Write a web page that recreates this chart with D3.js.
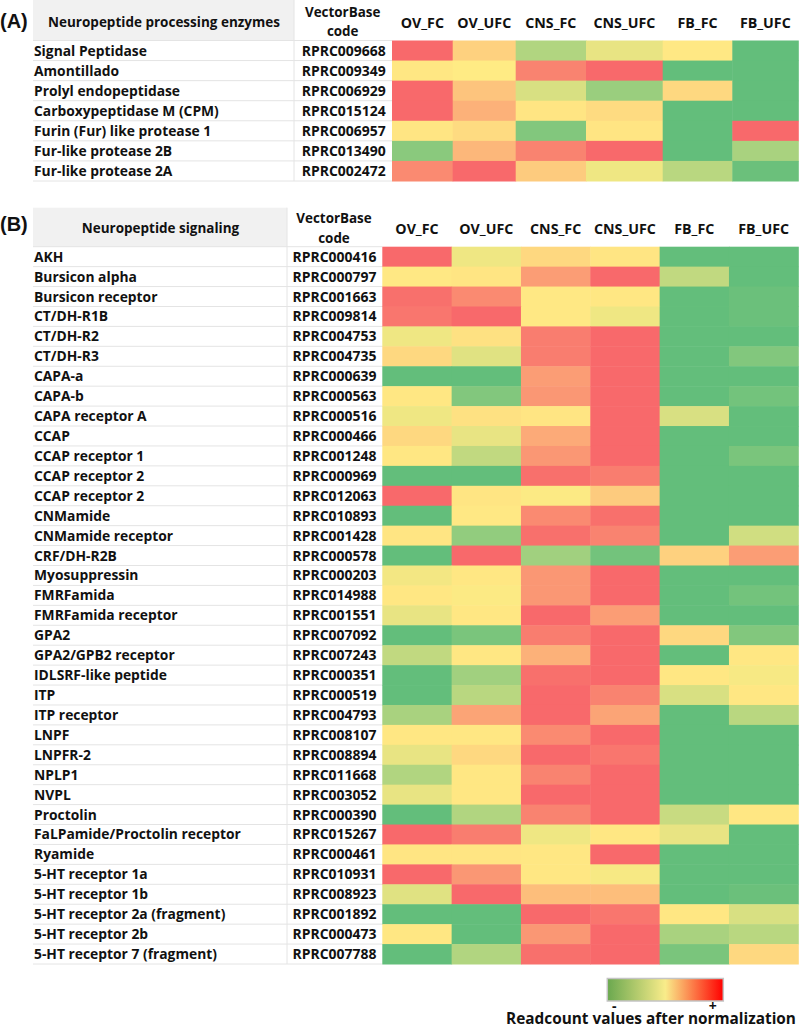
<!DOCTYPE html>
<html>
<head>
<meta charset="utf-8">
<script src="https://cdn.jsdelivr.net/npm/d3@7"></script>
<style>
  html, body { margin: 0; padding: 0; background: #fff; }
  svg { display: block; }
  text { font-family: "Open Sans", Lato, sans-serif; fill: #111; font-weight: 700; }
</style>
</head>
<body>
<svg id="chart" width="800" height="1027"></svg>
<script>
// ---------------- DATA ----------------
const columns = ["OV_FC", "OV_UFC", "CNS_FC", "CNS_UFC", "FB_FC", "FB_UFC"];

const genesA = ["Signal Peptidase", "Amontillado", "Prolyl endopeptidase", "Carboxypeptidase M (CPM)",
  "Furin (Fur) like protease 1", "Fur-like protease 2B", "Fur-like protease 2A"];
const codesA = ["RPRC009668", "RPRC009349", "RPRC006929", "RPRC015124", "RPRC006957", "RPRC013490", "RPRC002472"];
// relative normalized readcount: -1 (lowest, green) .. 0 (yellow) .. +1 (highest, red)
const valuesA = [
  [1.00, 0.20, -0.50, -0.15, 0.02, -1.00],
  [0.03, 0.00, 0.80, 1.00, -1.00, -1.00],
  [1.00, 0.30, -0.25, -0.65, 0.15, -1.00],
  [1.00, 0.45, 0.05, 0.12, -1.00, -1.00],
  [0.05, 0.12, -0.80, 0.05, -1.00, 1.00],
  [-0.75, 0.40, 0.80, 1.00, -1.00, -0.55],
  [0.75, 1.00, 0.25, -0.10, -0.45, -0.95]
];

const genesB = ["AKH", "Bursicon alpha", "Bursicon receptor", "CT/DH-R1B", "CT/DH-R2", "CT/DH-R3",
  "CAPA-a", "CAPA-b", "CAPA receptor A", "CCAP", "CCAP receptor 1", "CCAP receptor 2", "CCAP receptor 2",
  "CNMamide", "CNMamide receptor", "CRF/DH-R2B", "Myosuppressin", "FMRFamida", "FMRFamida receptor",
  "GPA2", "GPA2/GPB2 receptor", "IDLSRF-like peptide", "ITP", "ITP receptor", "LNPF", "LNPFR-2",
  "NPLP1", "NVPL", "Proctolin", "FaLPamide/Proctolin receptor", "Ryamide", "5-HT receptor 1a",
  "5-HT receptor 1b", "5-HT receptor 2a (fragment)", "5-HT receptor 2b", "5-HT receptor 7 (fragment)"];
const codesB = ["RPRC000416", "RPRC000797", "RPRC001663", "RPRC009814", "RPRC004753", "RPRC004735",
  "RPRC000639", "RPRC000563", "RPRC000516", "RPRC000466", "RPRC001248", "RPRC000969", "RPRC012063",
  "RPRC010893", "RPRC001428", "RPRC000578", "RPRC000203", "RPRC014988", "RPRC001551", "RPRC007092",
  "RPRC007243", "RPRC000351", "RPRC000519", "RPRC004793", "RPRC008107", "RPRC008894", "RPRC011668",
  "RPRC003052", "RPRC000390", "RPRC015267", "RPRC000461", "RPRC010931", "RPRC008923", "RPRC001892",
  "RPRC000473", "RPRC007788"];
const valuesB = [
  [1.00, -0.10, 0.15, 0.05, -1.00, -1.00],
  [0.02, 0.05, 0.60, 1.00, -0.40, -1.00],
  [0.95, 0.75, 0.02, 0.03, -1.00, -0.95],
  [0.90, 1.00, 0.02, -0.10, -1.00, -0.95],
  [-0.10, 0.08, 0.85, 1.00, -1.00, -1.00],
  [0.15, -0.20, 0.85, 1.00, -1.00, -0.80],
  [-1.00, -1.00, 0.60, 1.00, -1.00, -1.00],
  [0.03, -0.80, 0.65, 1.00, -1.00, -0.90],
  [-0.10, 0.08, 0.05, 1.00, -0.25, -1.00],
  [0.15, -0.15, 0.50, 1.00, -1.00, -1.00],
  [0.03, -0.40, 0.65, 1.00, -1.00, -0.85],
  [-1.00, -1.00, 0.95, 0.85, -1.00, -1.00],
  [1.00, 0.05, -0.02, 0.25, -1.00, -1.00],
  [-1.00, 0.02, 0.75, 0.95, -1.00, -1.00],
  [0.05, -0.70, 0.95, 0.80, -1.00, -0.30],
  [-1.00, 1.00, -0.60, -0.90, 0.20, 0.60],
  [-0.08, 0.03, 0.65, 1.00, -1.00, -1.00],
  [0.03, -0.02, 0.65, 1.00, -1.00, -0.90],
  [-0.15, 0.03, 1.00, 0.60, -1.00, -1.00],
  [-1.00, -0.85, 0.85, 1.00, 0.15, -0.80],
  [-0.40, 0.03, 0.45, 1.00, -1.00, 0.03],
  [-1.00, -0.60, 0.95, 1.00, 0.03, -0.05],
  [-1.00, -0.45, 1.00, 0.80, -0.25, 0.03],
  [-0.55, 0.55, 1.00, 0.55, -1.00, -0.45],
  [0.03, 0.03, 0.75, 1.00, -1.00, -1.00],
  [-0.15, 0.15, 1.00, 0.90, -1.00, -1.00],
  [-0.50, 0.03, 0.80, 1.00, -1.00, -1.00],
  [-0.15, 0.03, 1.00, 1.00, -1.00, -1.00],
  [-1.00, -0.50, 0.80, 1.00, -0.35, 0.03],
  [1.00, 0.85, -0.10, 0.03, -0.15, -1.00],
  [0.05, 0.05, 0.03, 1.00, -1.00, -1.00],
  [1.00, 0.65, 0.03, -0.05, -1.00, -1.00],
  [-0.20, 1.00, 0.35, 0.35, -1.00, -0.95],
  [-1.00, -1.00, 1.00, 0.90, 0.03, -0.25],
  [0.03, -1.00, 0.65, 1.00, -0.55, -0.45],
  [-1.00, -0.50, 0.95, 1.00, -0.85, 0.15]
];

const legendTicks = ["-", "+"];
const legendTitle = "Readcount values after normalization";

// ---------------- DRAW ----------------
const svg = d3.select("#chart");
const color = d3.scaleLinear().domain([-1, 0, 1])
  .range(["#63BE7B", "#FFEB84", "#F8696B"]).interpolate(d3.interpolateRgb);

// font size that makes a sample string a given pixel width
function fit(sample, target) {
  const t = svg.append("text").attr("font-size", 100).text(sample);
  const len = t.node().getComputedTextLength();
  t.remove();
  return 100 * target / len;
}
const fsGene = fit("Carboxypeptidase M (CPM)", 185);
const fsCode = fit("RPRC009668", 84);
const fsCol = fit("CNS_UFC", 62);
const fsVB = fit("VectorBase", 75.5);

function panel(cfg) {
  const g = svg.append("g");
  const n = cfg.genes.length;
  const y = d3.scaleBand().domain(d3.range(n)).range([cfg.rowTop, cfg.rowBottom]).padding(0);

  g.append("rect").attr("x", cfg.gridX0).attr("y", cfg.headTop)
    .attr("width", cfg.vline - cfg.gridX0).attr("height", cfg.rowTop - cfg.headTop)
    .attr("fill", "#f1f1f1");

  g.selectAll("line.h").data(d3.range(n + 1)).join("line")
    .attr("x1", cfg.gridX0).attr("x2", cfg.heatX0)
    .attr("y1", i => i < n ? y(i) : cfg.rowBottom).attr("y2", i => i < n ? y(i) : cfg.rowBottom)
    .attr("stroke", "#e4e4e4").attr("stroke-width", 1);
  g.append("line").attr("x1", cfg.vline).attr("x2", cfg.vline)
    .attr("y1", cfg.headTop).attr("y2", cfg.rowBottom)
    .attr("stroke", "#e4e4e4").attr("stroke-width", 1);

  const rows = g.selectAll("g.row").data(cfg.values).join("g");
  rows.selectAll("rect").data((d, i) => d.map((v, j) => ({ v, i, j }))).join("rect")
    .attr("x", d => cfg.x(columns[d.j]))
    .attr("width", d => cfg.w(columns[d.j]) + 0.5)
    .attr("y", d => y(d.i))
    .attr("height", y.bandwidth() + 0.5)
    .attr("fill", d => color(d.v));

  g.selectAll("text.gene").data(cfg.genes).join("text")
    .attr("x", cfg.labelX).attr("y", (d, i) => y(i) + y.bandwidth() / 2 + 5)
    .attr("font-size", fsGene).text(d => d);
  g.selectAll("text.code").data(cfg.codes).join("text")
    .attr("x", cfg.codeX).attr("y", (d, i) => y(i) + y.bandwidth() / 2 + 5)
    .attr("text-anchor", "middle")
    .attr("font-size", fsCode).text(d => d);

  g.selectAll("text.col").data(columns).join("text")
    .attr("x", c => cfg.x(c) + cfg.w(c) / 2).attr("y", cfg.colBase)
    .attr("text-anchor", "middle").attr("font-size", fsCol).text(c => c);

  g.append("text").attr("x", cfg.codeHeadX).attr("y", cfg.vbBase1)
    .attr("text-anchor", "middle").attr("font-size", fsVB).text("VectorBase");
  g.append("text").attr("x", cfg.codeHeadX).attr("y", cfg.vbBase2)
    .attr("text-anchor", "middle").attr("font-size", fsVB).text("code");

  g.append("text").attr("x", cfg.titleX).attr("y", cfg.titleBase)
    .attr("text-anchor", "middle").attr("font-size", fit(cfg.title, cfg.titleW)).text(cfg.title);

  g.append("text").attr("x", 0).attr("y", cfg.tagBase)
    .style("font-family", "'Liberation Sans', Arial, sans-serif")
    .attr("font-size", 20).text(cfg.tag);
}

const edgesA = [392, 452.7, 515.7, 586, 662.7, 732.3, 798.3];
const xA = d3.scaleOrdinal().domain(columns).range(edgesA.slice(0, 6));
const wA = d3.scaleOrdinal().domain(columns).range(edgesA.slice(1).map((e, i) => e - edgesA[i]));

panel({
  genes: genesA, codes: codesA, values: valuesA,
  title: "Neuropeptide processing enzymes", tag: "(A)", titleX: 164, titleW: 232,
  headTop: 0, rowTop: 40.5, rowBottom: 181,
  gridX0: 33, vline: 294, heatX0: 392, labelX: 34, codeX: 343.7, codeHeadX: 342.7,
  x: xA, w: wA,
  colBase: 27.5, vbBase1: 16.8, vbBase2: 35.5, titleBase: 26.8, tagBase: 27.5
});

const xB = d3.scaleBand().domain(columns).range([382.3, 798.3]).padding(0);
panel({
  genes: genesB, codes: codesB, values: valuesB,
  title: "Neuropeptide signaling", tag: "(B)", titleX: 160.5, titleW: 157.5,
  headTop: 207.7, rowTop: 246.7, rowBottom: 964,
  gridX0: 33, vline: 287, heatX0: 382.3, labelX: 34, codeX: 334.5, codeHeadX: 334,
  x: c => xB(c), w: () => xB.bandwidth(),
  colBase: 234, vbBase1: 223.3, vbBase2: 242.7, titleBase: 233.3, tagBase: 231
});

// ---------------- LEGEND ----------------
const defs = svg.append("defs");
const grad = defs.append("linearGradient").attr("id", "lg").attr("x1", "0%").attr("x2", "100%");
grad.append("stop").attr("offset", "0%").attr("stop-color", "#6aa84f");
grad.append("stop").attr("offset", "50%").attr("stop-color", "#f9ec8a");
grad.append("stop").attr("offset", "100%").attr("stop-color", "#ff0000");

const lx = d3.scaleLinear().domain([0, 1]).range([607.3, 723.3]);
svg.append("rect").attr("x", lx(0)).attr("y", 978.5).attr("width", lx(1) - lx(0)).attr("height", 22.5)
  .attr("fill", "url(#lg)").attr("stroke", "#c4c4c4").attr("stroke-width", 1.5);
svg.selectAll("text.lt").data(legendTicks).join("text")
  .attr("x", (d, i) => i === 0 ? lx(0.06) : lx(0.91)).attr("y", 1011)
  .attr("text-anchor", "middle").attr("font-size", 14).text(d => d);
const fsLeg = fit(legendTitle, 290);
svg.append("text").attr("x", 651).attr("y", 1023.5).attr("text-anchor", "middle")
  .attr("font-size", fsLeg).text(legendTitle);
</script>
</body>
</html>
